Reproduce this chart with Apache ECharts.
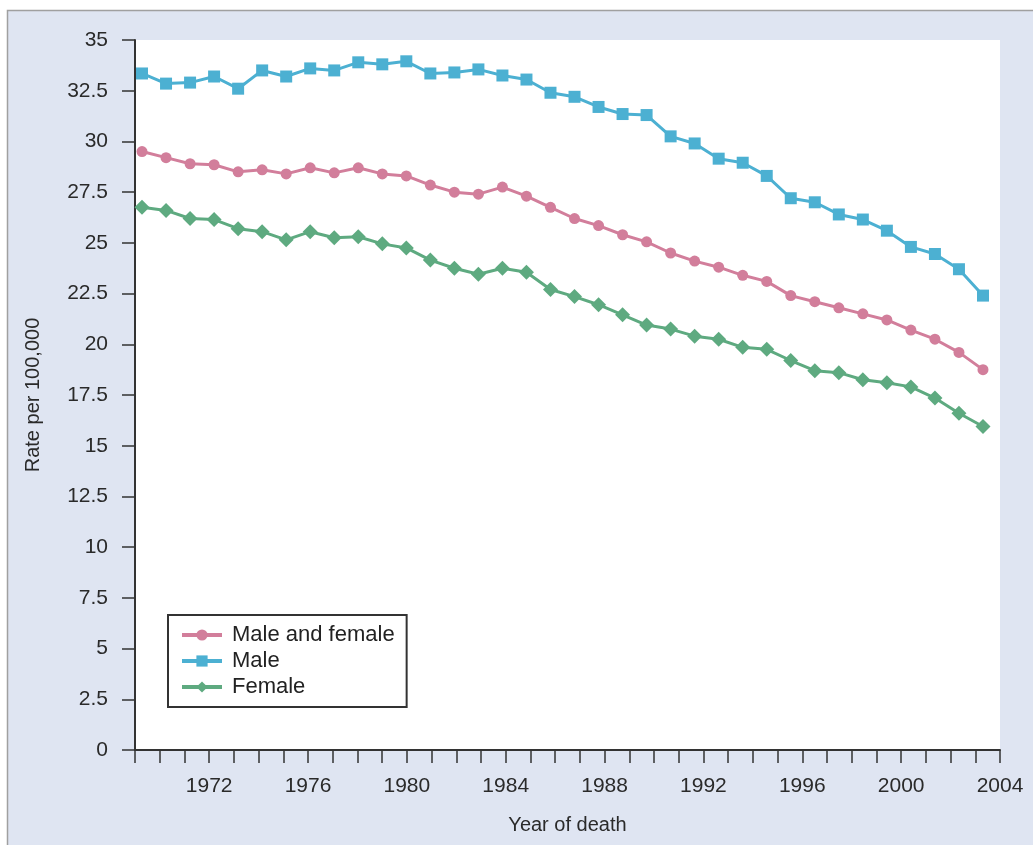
<!doctype html>
<html lang="en">
<head>
	<meta charset="UTF-8">
	<title>Rate per 100,000 by year of death</title>
	<style>
		html, body { margin: 0; padding: 0; background: #fff; }
		#main { width: 1033px; height: 845px; }
	</style>
</head>
<body>
<div id="main"></div>
<script src="https://cdn.jsdelivr.net/npm/echarts@6/dist/echarts.min.js"></script>
<script type="text/javascript">
	// data, one point per year
	var years = [1968, 1969, 1970, 1971, 1972, 1973, 1974, 1975, 1976, 1977, 1978, 1979,
		1980, 1981, 1982, 1983, 1984, 1985, 1986, 1987, 1988, 1989, 1990, 1991,
		1992, 1993, 1994, 1995, 1996, 1997, 1998, 1999, 2000, 2001, 2002, 2003];
	var both = [29.5, 29.2, 28.9, 28.85, 28.5, 28.6, 28.4, 28.7, 28.45, 28.7, 28.4, 28.3,
		27.85, 27.5, 27.4, 27.75, 27.3, 26.75, 26.2, 25.85, 25.4, 25.05, 24.5, 24.1,
		23.8, 23.4, 23.1, 22.4, 22.1, 21.8, 21.5, 21.2, 20.7, 20.25, 19.6, 18.75];
	var male = [33.35, 32.85, 32.9, 33.2, 32.6, 33.5, 33.2, 33.6, 33.5, 33.9, 33.8, 33.95,
		33.35, 33.4, 33.55, 33.25, 33.05, 32.4, 32.2, 31.7, 31.35, 31.3, 30.25, 29.9,
		29.15, 28.95, 28.3, 27.2, 27.0, 26.4, 26.15, 25.6, 24.8, 24.45, 23.7, 22.4];
	var female = [26.75, 26.6, 26.2, 26.15, 25.7, 25.55, 25.15, 25.55, 25.25, 25.3, 24.95, 24.75,
		24.15, 23.75, 23.45, 23.75, 23.55, 22.7, 22.35, 21.95, 21.45, 20.95, 20.75, 20.4,
		20.25, 19.85, 19.75, 19.2, 18.7, 18.6, 18.25, 18.1, 17.9, 17.35, 16.6, 15.95];

	var font = 'Liberation Sans, Arial, sans-serif';
	var ink = '#2a2a2a';

	var myChart = echarts.init(document.getElementById('main'), null, { renderer: 'canvas' });

	var option = {
		backgroundColor: '#fff',
		animation: false,
		graphic: [{
			type: 'rect',
			z: -10,
			silent: true,
			shape: { x: 7.5, y: 10.5, width: 1100, height: 900 },
			style: { fill: '#dfe5f2', stroke: '#a0a0a0', lineWidth: 1.5 }
		}],
		grid: [
			{ left: 135, right: 33, top: 40, bottom: 95, show: true, backgroundColor: '#fff', borderWidth: 0 },
			{ left: 130, right: 38, top: 40, bottom: 95, show: false }
		],
		legend: {
			orient: 'vertical',
			left: 168,
			top: 615,
			padding: [9, 12, 9, 12],
			itemWidth: 40,
			itemHeight: 14,
			itemGap: 4,
			borderColor: '#333',
			borderWidth: 2,
			backgroundColor: '#fff',
			lineStyle: { width: 4 },
			textStyle: { fontFamily: font, fontSize: 22, color: '#222', padding: [0, 0, 0, 5] },
			data: ['Male and female', 'Male', 'Female']
		},
		xAxis: [{
			type: 'value',
			gridIndex: 0,
			min: 1969,
			max: 2004,
			interval: 1,
			name: 'Year of death',
			nameLocation: 'middle',
			nameGap: 65,
			nameTextStyle: { fontFamily: font, fontSize: 20, color: ink },
			axisLine: { lineStyle: { color: '#333', width: 2 } },
			axisTick: { inside: false, length: 13, lineStyle: { color: '#333', width: 1.5 } },
			axisLabel: {
				fontFamily: font, fontSize: 21, color: ink, margin: 26,
				formatter: function (v) { return (v % 4 === 0) ? String(v) : ''; }
			},
			splitLine: { show: false }
		}, {
			type: 'category',
			gridIndex: 1,
			data: years,
			boundaryGap: true,
			show: false
		}],
		yAxis: [{
			type: 'value',
			gridIndex: 0,
			min: 0,
			max: 35,
			interval: 2.5,
			name: 'Rate per 100,000',
			nameLocation: 'middle',
			nameGap: 92,
			nameTextStyle: { fontFamily: font, fontSize: 20, color: ink },
			axisLine: { show: true, lineStyle: { color: '#333', width: 2 } },
			axisTick: { show: true, length: 13, lineStyle: { color: '#333', width: 1.5 } },
			axisLabel: { fontFamily: font, fontSize: 21, color: ink, margin: 27 },
			splitLine: { show: false }
		}, {
			type: 'value',
			gridIndex: 1,
			min: 0,
			max: 35,
			show: false
		}],
		series: [
			{
				name: 'Male and female',
				type: 'line',
				xAxisIndex: 1,
				yAxisIndex: 1,
				data: both,
				symbol: 'circle',
				symbolSize: 11,
				lineStyle: { width: 3, color: '#d27e9b' },
				itemStyle: { color: '#d27e9b' }
			},
			{
				name: 'Male',
				type: 'line',
				xAxisIndex: 1,
				yAxisIndex: 1,
				data: male,
				symbol: 'rect',
				symbolSize: 12,
				lineStyle: { width: 3, color: '#4cb0d2' },
				itemStyle: { color: '#4cb0d2' }
			},
			{
				name: 'Female',
				type: 'line',
				xAxisIndex: 1,
				yAxisIndex: 1,
				data: female,
				symbol: 'diamond',
				symbolSize: 15,
				lineStyle: { width: 3, color: '#5eaa80' },
				itemStyle: { color: '#5eaa80' }
			}
		]
	};

	myChart.setOption(option);
</script>
</body>
</html>
